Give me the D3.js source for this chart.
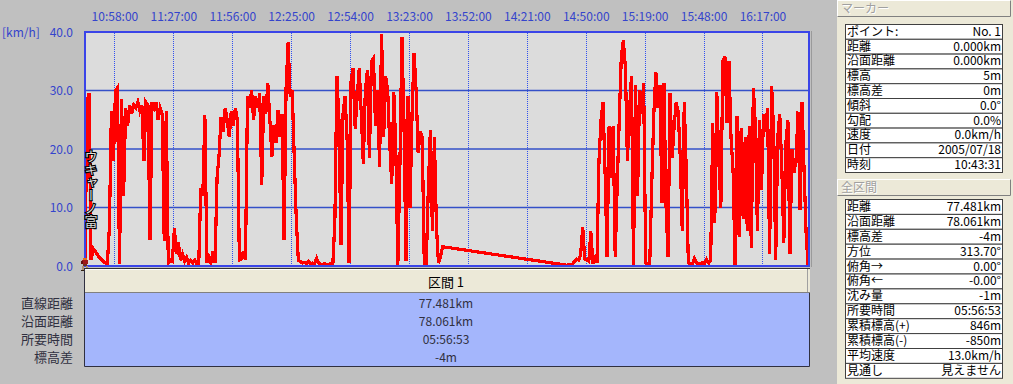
<!DOCTYPE html>
<html>
<head>
<meta charset="utf-8">
<script src="https://cdn.jsdelivr.net/npm/d3@7"></script>
<style>
	body { margin: 0; background: #c0c0c0; overflow: hidden; }
	svg { display: block; }
	text { font-family: "Noto Sans CJK JP", "Noto Sans", sans-serif; }
</style>
</head>
<body>
<svg id="vis" width="1013" height="384"></svg>
<script>
// start of the track and total time (05:56:53)
const startClock = "10:43:31";
const durationMin = 356 + 53 / 60;

// time axis labels along the top
const timeTicks = ["10:58:00", "11:27:00", "11:56:00", "12:25:00", "12:54:00", "13:23:00",
	"13:52:00", "14:21:00", "14:50:00", "15:19:00", "15:48:00", "16:17:00"];

// speed axis
const speedTicks = [0, 10, 20, 30, 40];

// speed [km/h], one value per minute from the start (first part, until the GPS gap)
const speedsA = [0, 28, 29.5, 1, 3, 2.5, 2, 1.5, 1.2, 0.8, 0.5, 0.3, 6.5, 26.5, 18, 30, 30.5, 0.3, 28.5, 12,
	27, 24, 27.5, 26, 27.5, 27, 28, 26.5, 27.5, 18, 28, 27.5, 4.4, 28, 27, 28, 25, 27, 26, 4.2,
	26.5, 0.5, 1, 0.8, 6.4, 2, 4, 1, 2, 0.8, 1.5, 0.5, 1, 0.5, 1, 0.4, 0.5, 13.3, 12, 25.8,
	0.5, 1.5, 0.5, 2.5, 0.5, 15, 19, 25.5, 23, 27, 25, 22, 26.5, 24, 27, 25, 1, 1.2, 2.5, 1,
	29, 27, 30, 25, 29, 27, 29.5, 13.8, 29, 26, 31.2, 25, 18.7, 24, 21, 26.7, 22, 26, 4.4, 30.7,
	38.3, 29, 30, 18.7, 8, 1, 0.8, 0.5, 0.6, 0.4, 0.8, 0.3, 0.5, 0.4, 1.3, 0.5, 0.3, 0.3, 0.4, 0.3,
	0.3, 0.4, 0.3, 7.6, 32.4, 25, 3.6, 26, 29, 22, 0.5, 31.8, 33.8, 23.5, 29, 33.8, 26, 17.5, 30, 33.5,
	18.5, 35, 35.5, 24, 30, 17, 39.7, 22, 32.4, 30, 21, 14, 29.8, 20, 0.2, 17, 39.2, 25, 0.8, 29,
	10, 26, 36.4, 30, 19.3, 23, 22, 0.5, 0.5, 13.3, 23.2, 6, 22, 6.7, 0.5, 1.5, 3.3];

// second part, one value per minute starting at minute 236
const startB = 236;
const speedsB = [0.2, 0.1, 0.2, 0.2, 0.3, 0.8, 1.2, 1, 2, 6.7, 1.2, 1, 0.8, 5.9, 0.4, 1.9, 0.5, 18, 25, 28,
	16, 1.6, 24, 15, 24, 1.6, 14, 25.2, 35.8, 38.6, 33.9, 18, 26.4, 32.4, 0.2, 31, 12, 30, 26, 31.2,
	0.5, 0.4, 0.5, 14, 26, 33.2, 27, 31, 10.7, 31.2, 10.4, 1.6, 29.5, 18.4, 23.8, 28, 26.4, 18.7, 6, 28,
	16, 0.5, 0.4, 0.3, 1.3, 0.5, 0.4, 0.3, 0.6, 0.4, 1.1, 0.5, 1, 24.4, 7.3, 29.8, 18, 10, 35, 35.8,
	24.4, 35, 22, 16.4, 0.2, 25.6, 5, 23.6, 8, 22, 6, 24, 3, 30.4, 24, 6, 25, 13, 26, 23,
	27, 2, 30.7, 23, 1, 22, 26, 17, 4, 21, 25, 2, 20, 16, 18, 26.4, 9.5, 28, 16, 5.3, 0];

// right hand panels
const markerLabels = ["ポイント:", "距離", "沿面距離", "標高", "標高差", "傾斜", "勾配", "速度", "日付", "時刻"];
const markerValues = ["No. 1", "0.000km", "0.000km", "5m", "0m", "0.0°", "0.0%", "0.0km/h", "2005/07/18", "10:43:31"];
const totalLabels = ["距離", "沿面距離", "標高差", "方位", "俯角→", "俯角←", "沈み量", "所要時間", "累積標高(+)", "累積標高(-)", "平均速度", "見通し"];
const totalValues = ["77.481km", "78.061km", "-4m", "313.70°", "0.00°", "-0.00°", "-1m", "05:56:53", "846m", "-850m", "13.0km/h", "見えません"];

// section table under the chart
const sectionTitle = "区間 1";
const sectionLabels = ["直線距離", "沿面距離", "所要時間", "標高差"];
const sectionValues = ["77.481km", "78.061km", "05:56:53", "-4m"];


const svg = d3.select("svg#vis");
const plot = { left: 84, right: 810, top: 31, bottom: 267 };
const axisBlue = "#3444cc";

let clockToMin = function(s) {
	const p = s.split(":").map(Number);
	return p[0] * 60 + p[1] + p[2] / 60;
};

const x = d3.scaleLinear().domain([0, durationMin]).range([85, 810]);
const y = d3.scaleLinear().domain([0, 40]).range([266, 32]);

const tickMins = timeTicks.map(d => clockToMin(d) - clockToMin(startClock));

// plot background
svg.append("rect")
	.attr("x", plot.left).attr("y", plot.top)
	.attr("width", plot.right - plot.left).attr("height", plot.bottom - plot.top)
	.attr("fill", "#dcdcdc");

svg.append("defs").append("clipPath").attr("id", "clip")
	.append("rect")
	.attr("x", plot.left + 1).attr("y", plot.top + 1)
	.attr("width", plot.right - plot.left - 2).attr("height", plot.bottom - plot.top - 2);

// vertical dotted lines at the time ticks
svg.append("g").selectAll("line")
	.data(tickMins)
	.enter().append("line")
	.attr("x1", d => Math.round(x(d)) + 0.5).attr("x2", d => Math.round(x(d)) + 0.5)
	.attr("y1", plot.top).attr("y2", plot.bottom)
	.attr("stroke", "#3050f0").attr("stroke-width", 1)
	.attr("stroke-dasharray", "1,1")
	.attr("shape-rendering", "crispEdges");

// horizontal grid
svg.append("g").selectAll("line")
	.data(speedTicks.filter(d => d > 0 && d < 40))
	.enter().append("line")
	.attr("x1", plot.left).attr("x2", plot.right)
	.attr("y1", d => y(d)).attr("y2", d => y(d))
	.attr("stroke", "#3450c8").attr("stroke-width", 1.4);

// speed trace
const points = speedsA.map((v, i) => [i, v])
	.concat(speedsB.map((v, i) => [startB + i, v]));

const line = d3.line()
	.x(d => x(d[0]))
	.y(d => y(d[1]));

svg.append("path")
	.datum(points)
	.attr("clip-path", "url(#clip)")
	.attr("d", line)
	.attr("fill", "none")
	.attr("stroke", "#ff0000")
	.attr("stroke-width", 3.2)
	.attr("stroke-linejoin", "miter")
	.attr("shape-rendering", "crispEdges");

// plot frame
svg.append("rect")
	.attr("x", plot.left + 1).attr("y", plot.top + 1)
	.attr("width", plot.right - plot.left - 2).attr("height", plot.bottom - plot.top - 2)
	.attr("fill", "none")
	.attr("stroke", "#3a44e8").attr("stroke-width", 2);
svg.append("line")
	.attr("x1", plot.right + 1.5).attr("x2", plot.right + 1.5)
	.attr("y1", plot.top).attr("y2", plot.bottom)
	.attr("stroke", "#9a9a9a");

// vertical waypoint name (hollow letters)
const wp = svg.append("g").style("writing-mode", "vertical-rl");
wp.append("text")
	.attr("x", 91).attr("y", 150)
	.attr("font-size", 13)
	.attr("fill", "none")
	.attr("stroke", "#000").attr("stroke-width", 2.2)
	.text("ウキャーノ富");
wp.append("text")
	.attr("x", 91).attr("y", 150)
	.attr("font-size", 13)
	.attr("fill", "#dcdcdc")
	.text("ウキャーノ富");

// axes
const topAxis = d3.axisTop(x)
	.tickValues(tickMins)
	.tickFormat((d, i) => timeTicks[i])
	.tickSize(0).tickPadding(0);

const gTop = svg.append("g")
	.attr("transform", "translate(0,21)")
	.call(topAxis);

const leftAxis = d3.axisLeft(y)
	.tickValues(speedTicks)
	.tickFormat(d3.format(".1f"))
	.tickSize(0).tickPadding(0);

const gLeft = svg.append("g")
	.attr("transform", "translate(73,0)")
	.call(leftAxis);

[gTop, gLeft].forEach(g => {
	g.select(".domain").remove();
	g.selectAll("text")
		.attr("fill", axisBlue)
		.attr("font-size", 12)
		.style("font-family", "'Noto Sans CJK JP', sans-serif");
});
gLeft.selectAll("text").attr("dy", "0.35em");

svg.append("text")
	.attr("x", 2).attr("y", 37)
	.attr("fill", axisBlue).attr("font-size", 12)
	.text("[km/h]");

// small walking man marker at the start point
const mx = x(0), my = y(0);
const man = svg.append("g").attr("transform", "translate(" + (mx - 4) + "," + (my - 8) + ")");
[[2, 0, 4, 2, "#e07020"], [1, 2, 6, 4, "#a01818"], [0, 3, 2, 3, "#601010"], [2, 6, 4, 2, "#703020"],
 [1, 8, 2, 4, "#b09070"], [5, 8, 2, 4, "#b09070"], [0, 12, 3, 1, "#302010"], [5, 12, 3, 1, "#302010"]]
	.forEach(r => man.append("rect")
		.attr("x", r[0]).attr("y", r[1]).attr("width", r[2]).attr("height", r[3]).attr("fill", r[4]));

// section table below the chart
svg.append("rect")
	.attr("x", 84).attr("y", 268).attr("width", 726).attr("height", 25)
	.attr("fill", "#ece9d8");
svg.append("line").attr("x1", 84).attr("x2", 810).attr("y1", 268.5).attr("y2", 268.5).attr("stroke", "#303030");
svg.append("line").attr("x1", 85).attr("x2", 808).attr("y1", 269.5).attr("y2", 269.5).attr("stroke", "#ffffff");
svg.append("line").attr("x1", 84).attr("x2", 810).attr("y1", 292.5).attr("y2", 292.5).attr("stroke", "#808080");
svg.append("line").attr("x1", 807.5).attr("x2", 807.5).attr("y1", 269).attr("y2", 292).attr("stroke", "#a0a0a0");
svg.append("text")
	.attr("x", 446).attr("y", 287)
	.attr("text-anchor", "middle").attr("font-size", 13).attr("fill", "#000")
	.text(sectionTitle);

svg.append("rect")
	.attr("x", 84).attr("y", 293).attr("width", 725).attr("height", 73)
	.attr("fill", "#a4b6fc");
svg.append("path")
	.attr("d", "M84.5,268V366.5H809.5V293")
	.attr("fill", "none").attr("stroke", "#303040");

svg.append("g").selectAll("text")
	.data(sectionLabels)
	.enter().append("text")
	.attr("x", 73).attr("y", (d, i) => 308 + i * 18)
	.attr("text-anchor", "end").attr("font-size", 13).attr("fill", "#303040")
	.text(d => d);

svg.append("g").selectAll("text")
	.data(sectionValues)
	.enter().append("text")
	.attr("x", 446).attr("y", (d, i) => 308 + i * 18)
	.attr("text-anchor", "middle").attr("font-size", 12).attr("fill", "#303040")
	.text(d => d);

// right hand panel
svg.append("rect")
	.attr("x", 837).attr("y", 0).attr("width", 176).attr("height", 384)
	.attr("fill", "#ece9d8");

let drawHeader = function(top, label) {
	svg.append("rect")
		.attr("x", 837.5).attr("y", top + 0.5).attr("width", 173).attr("height", 16)
		.attr("fill", "#ece9d8").attr("stroke", "#ffffff");
	svg.append("path")
		.attr("d", "M837.5," + (top + 16.5) + "H1010.5V" + (top + 0.5))
		.attr("fill", "none").attr("stroke", "#808080");
	svg.append("text")
		.attr("x", 842).attr("y", top + 14)
		.attr("font-size", 12).attr("fill", "#ffffff").text(label);
	svg.append("text")
		.attr("x", 841).attr("y", top + 13)
		.attr("font-size", 12).attr("fill", "#a0a0a0").text(label);
};

let drawTable = function(top, rowH, labels, values) {
	const g = svg.append("g");
	const rows = g.selectAll("g")
		.data(labels)
		.enter().append("g")
		.attr("transform", (d, i) => "translate(0," + (top + i * rowH) + ")");
	rows.append("rect")
		.attr("x", 845.5).attr("y", 0.5).attr("width", 157).attr("height", rowH)
		.attr("fill", "#ffffff").attr("stroke", "#404040");
	rows.append("text")
		.attr("x", 847).attr("y", rowH - 3)
		.attr("font-size", 12).attr("fill", "#000")
		.text(d => d);
	rows.append("text")
		.attr("x", 1001).attr("y", rowH - 3)
		.attr("text-anchor", "end")
		.attr("font-size", 12).attr("fill", "#000")
		.text((d, i) => values[i]);
};

drawHeader(0, "マーカー");
drawTable(24, 14.8, markerLabels, markerValues);
drawHeader(179, "全区間");
drawTable(199, 14.9, totalLabels, totalValues);
</script>
</body>
</html>
